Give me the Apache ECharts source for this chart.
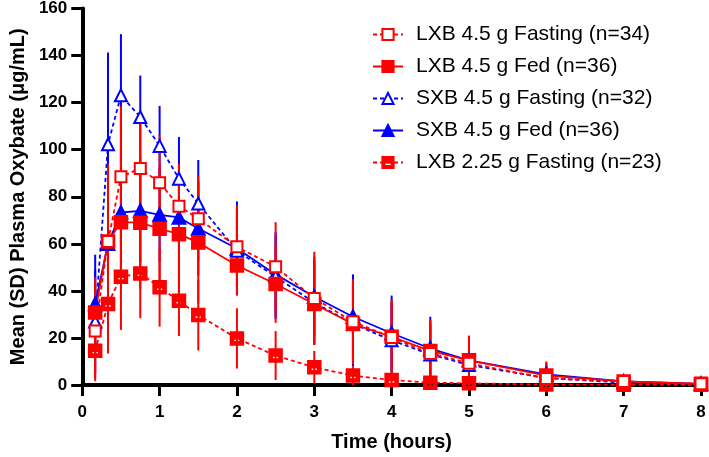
<!DOCTYPE html>
<html>
<head>
<meta charset="utf-8">
<script src="https://cdn.jsdelivr.net/npm/echarts@6/dist/echarts.min.js"></script>
<style>html,body{margin:0;padding:0;background:#fff}#c{width:709px;height:457px}</style>
</head>
<body>
<div id="c"></div>
<script>
var times = [0.167, 0.333, 0.5, 0.75, 1, 1.25, 1.5, 2, 2.5, 3, 3.5, 4, 4.5, 5, 6, 7, 8];
var seriesNames = ['LXB 4.5 g Fasting (n=34)', 'LXB 4.5 g Fed (n=36)', 'SXB 4.5 g Fasting (n=32)', 'SXB 4.5 g Fed (n=36)', 'LXB 2.25 g Fasting (n=23)'];
var lxbFastMean = [23, 61, 88.5, 92, 86, 76, 70.7, 58.7, 50.2, 36.8, 26.9, 20.2, 13.4, 9.2, 2.8, 1.5, 0.5];
var lxbFastSD   = [20, 33, 30, 23, 20, 18, 18, 17.7, 19, 19.8, 18, 16, 14, 11, 6, 2.3, 1];
var lxbFedMean  = [30.8, 61, 69.2, 69, 66.4, 64.1, 60.6, 50.8, 42.9, 34.4, 25.9, 20.5, 14.5, 10.5, 4, 1.5, 0.5];
var lxbFedSD    = [15, 28, 28, 28, 27, 26, 26, 12.5, 16.5, 17, 17, 15, 13, 10.5, 6, 2, 1];
var sxbFastMean = [27, 102.3, 123.1, 113.9, 101.6, 87.7, 77.1, 57, 46, 35, 26, 19, 13, 8.5, 3, 1, 0.3];
var sxbFastSD   = [22, 39, 26, 17.6, 17, 17.7, 18.5, 18, 18, 18, 18, 16, 13, 10, 5, 2, 0.5];
var sxbFedMean  = [34.4, 60, 73.3, 74, 72.3, 71.2, 66.5, 58, 47, 37.5, 29, 22, 15.5, 10.5, 4.5, 1.5, 0.5];
var sxbFedSD    = [21, 28, 25, 22, 20, 20, 20, 20, 18, 17, 18, 16, 13.5, 10, 5, 2, 0.5];
var lxbLowMean  = [14.6, 34.4, 46, 47.4, 41.5, 35.8, 29.7, 19.8, 12.5, 7.5, 4, 2.1, 1, 0.7, 0.2, 0.1, 0.1];
var lxbLowSD    = [13, 21, 22.6, 19, 16.7, 15, 15, 12.8, 10.4, 7, 4, 2.5, 1.5, 1, 0.5, 0.2, 0.1];
var yTicks = [0, 20, 40, 60, 80, 100, 120, 140, 160];
var xTicks = [0, 1, 2, 3, 4, 5, 6, 7, 8];

var RED = '#ff0000', BLUE = '#0000ff';
var FONT = '"Liberation Sans", Arial, sans-serif';

function pairs(m) { return times.map(function (t, i) { return [t, m[i]]; }); }
function errData(m, s) { return times.map(function (t, i) { return [t, m[i] - s[i], m[i] + s[i]]; }); }
function errSeries(m, s, color) {
  return {
    type: 'custom',
    data: errData(m, s),
    silent: true,
    renderItem: function (params, api) {
      var lo = api.coord([api.value(0), api.value(1)]);
      var hi = api.coord([api.value(0), api.value(2)]);
      return {
        type: 'line',
        shape: { x1: lo[0], y1: lo[1], x2: hi[0], y2: hi[1] },
        style: { stroke: color, lineWidth: 2 }
      };
    },
    encode: { x: 0, y: [1, 2] },
    clip: false
  };
}
function lineSeries(name, m, color, symbol, size, dashed) {
  return {
    name: name,
    type: 'line',
    data: pairs(m),
    symbol: symbol,
    symbolSize: size,
    showAllSymbol: true,
    lineStyle: { color: color, width: 1.8, type: dashed ? [4, 3] : 'solid' },
    itemStyle: { color: color, borderColor: color, borderWidth: 2.5 },
    emphasis: { disabled: true },
    animation: false
  };
}
var halfSquare = 'path://M0,0H10V10H0ZM1.8,5V8.2H8.2V5Z';

var chart = echarts.init(document.getElementById('c'), null, { renderer: 'canvas' });
chart.setOption({
  animation: false,
  backgroundColor: '#fff',
  grid: { left: 77, right: 8, top: 8, bottom: 72 },
  legend: {
    data: seriesNames,
    orient: 'vertical',
    left: 367,
    top: 19,
    itemWidth: 30,
    itemHeight: 14,
    itemGap: 11,
    textStyle: { fontFamily: FONT, fontSize: 21, color: '#000', padding: [0, 0, 0, 8] }
  },
  xAxis: {
    type: 'value', min: xTicks[0], max: xTicks[xTicks.length - 1], interval: 1,
    name: 'Time (hours)', nameLocation: 'middle', nameGap: 47,
    nameTextStyle: { fontFamily: FONT, fontSize: 20, fontWeight: 'bold', color: '#000' },
    axisLine: { show: true, onZero: false, lineStyle: { color: '#000', width: 4 } },
    axisTick: { show: true, length: 11, lineStyle: { color: '#000', width: 3 } },
    axisLabel: { margin: 19, fontFamily: FONT, fontSize: 17, fontWeight: 'bold', color: '#000' },
    splitLine: { show: false }
  },
  yAxis: {
    type: 'value', min: yTicks[0], max: yTicks[yTicks.length - 1], interval: 20,
    name: 'Mean (SD) Plasma Oxybate (μg/mL)', nameLocation: 'middle', nameGap: 49,
    nameTextStyle: { fontFamily: FONT, fontSize: 20, fontWeight: 'bold', color: '#000' },
    axisLine: { show: true, lineStyle: { color: '#000', width: 4 } },
    axisTick: { show: true, length: 11, lineStyle: { color: '#000', width: 3 } },
    axisLabel: { margin: 15, fontFamily: FONT, fontSize: 17, fontWeight: 'bold', color: '#000' },
    splitLine: { show: false }
  },
  series: [
    errSeries(sxbFedMean, sxbFedSD, BLUE),
    errSeries(sxbFastMean, sxbFastSD, BLUE),
    errSeries(lxbLowMean, lxbLowSD, RED),
    errSeries(lxbFedMean, lxbFedSD, RED),
    errSeries(lxbFastMean, lxbFastSD, RED),
    lineSeries(seriesNames[3], sxbFedMean, BLUE, 'triangle', 12, false),
    lineSeries(seriesNames[2], sxbFastMean, BLUE, 'emptyTriangle', 12, true),
    lineSeries(seriesNames[4], lxbLowMean, RED, halfSquare, 12, true),
    lineSeries(seriesNames[1], lxbFedMean, RED, 'rect', 12, false),
    lineSeries(seriesNames[0], lxbFastMean, RED, 'emptyRect', 11, true)
  ]
});
</script>
</body>
</html>
